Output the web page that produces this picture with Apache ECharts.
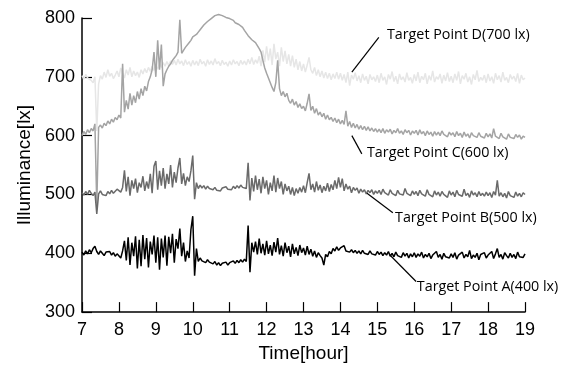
<!DOCTYPE html>
<html>
<head>
<meta charset="utf-8">
<script src="https://cdn.jsdelivr.net/npm/echarts@6/dist/echarts.min.js"></script>
<style>
  html, body { margin: 0; padding: 0; background: #fff; }
  #chart { width: 565px; height: 368px; }
</style>
</head>
<body>
<div id="chart"></div>
<script>
// samples every 0.05 h from 7:00 to 19:00
const startHour = 7;
const stepHour = 0.05;

const pointA = [
  402,397,404,399,406,401,408,412,403,398,404,400,396,402,399,403,397,401,395,399,
  396,392,404,421,388,427,380,418,395,429,374,423,378,431,390,426,376,420,398,430,
  384,427,372,425,393,430,379,428,400,433,384,424,408,442,395,418,386,404,392,440,
  463,362,408,386,392,387,390,384,389,385,387,382,386,380,384,379,383,381,385,380,
  384,382,387,383,388,384,389,385,390,386,447,368,418,402,420,398,425,400,416,397,
  421,399,414,396,419,402,426,398,413,395,418,401,412,394,416,399,410,396,414,401,
  409,397,412,398,407,395,404,393,401,396,392,380,398,394,403,399,408,404,411,405,
  409,406,413,404,407,402,406,401,405,400,404,399,405,400,403,398,404,399,402,397,
  403,398,402,396,401,397,403,395,400,394,402,396,399,393,401,395,400,392,399,394,
  401,393,399,395,402,392,398,394,400,391,397,395,403,393,398,390,400,394,397,392,
  399,393,401,390,397,395,402,392,398,394,405,391,397,393,400,389,398,395,401,392,
  397,394,403,391,399,408,393,398,390,401,396,392,400,393,398,391,402,394,397,393,
  399
];

const pointB = [
  503,499,505,500,507,502,498,504,467,501,506,500,503,498,505,501,507,502,504,509,
  508,504,512,541,505,530,498,524,510,527,503,520,512,531,506,522,510,535,502,548,
  557,508,540,515,545,510,535,518,550,512,538,520,545,562,518,536,515,530,522,540,
  566,492,520,510,516,511,515,509,514,510,513,508,512,507,510,506,511,508,513,509,
  512,508,514,510,515,511,516,512,514,510,554,490,528,505,532,508,526,502,530,510,
  524,500,520,506,532,504,528,510,522,500,518,506,514,500,512,498,510,502,512,504,
  515,503,520,536,508,518,504,522,507,516,503,514,506,519,505,517,508,524,510,529,
  512,527,506,518,509,514,503,512,507,511,502,509,504,508,501,507,503,508,500,506,
  502,507,500,509,503,506,499,508,502,505,498,507,501,504,499,510,502,505,498,506,
  500,505,498,507,501,504,497,508,500,503,496,506,499,504,497,505,500,503,495,506,
  499,504,496,507,500,503,497,509,498,502,495,506,499,503,496,505,498,502,497,504,
  498,503,495,505,499,524,497,503,496,502,494,505,498,501,495,504,497,502,496,503,
  500
];

const pointC = [
  600,607,602,610,605,612,608,620,482,614,618,613,621,617,625,620,628,623,631,627,
  635,630,722,640,660,645,672,652,668,656,675,662,680,668,684,676,692,700,712,742,
  700,762,712,755,684,705,712,718,722,728,732,736,742,797,740,745,750,748,758,762,
  768,765,772,776,780,783,788,791,794,797,799,801,804,805,806,805,804,803,801,800,
  799,797,796,792,793,789,786,784,779,776,770,768,763,762,758,755,748,742,728,715,
  706,698,690,682,675,690,728,680,668,675,666,672,660,655,662,652,658,648,654,646,
  650,642,655,671,643,650,638,646,635,640,632,638,628,635,627,631,624,630,622,628,
  620,626,619,642,616,624,614,621,613,619,611,617,610,616,609,615,608,613,607,612,
  606,611,605,612,604,610,606,611,603,609,605,612,604,608,602,610,605,609,601,608,
  604,609,601,610,603,607,600,608,602,606,599,607,601,606,600,608,602,605,598,606,
  601,605,598,607,600,604,597,606,599,603,596,605,600,603,597,605,599,602,596,604,
  598,603,596,612,599,602,595,604,598,601,594,603,597,600,595,602,597,601,594,599,
  597
];

const pointD = [
  702,696,704,698,700,694,690,700,608,688,702,696,708,699,712,701,706,697,703,710,
  700,715,705,698,712,703,716,700,710,702,708,699,712,705,714,707,716,709,718,711,
  720,713,722,716,724,718,726,719,727,721,728,720,730,722,727,719,729,721,726,718,
  728,720,727,719,730,722,726,718,729,721,727,720,731,722,726,719,728,721,725,718,
  727,720,729,722,726,719,728,721,727,720,730,722,733,721,729,723,735,718,745,725,
  752,728,748,720,756,730,742,718,750,726,744,722,738,718,736,716,730,712,726,710,
  722,708,720,733,712,706,716,702,712,700,710,698,708,697,706,695,705,697,708,696,
  706,694,704,690,708,685,703,696,707,693,702,690,705,694,701,688,704,695,700,692,
  703,690,706,694,700,687,704,696,709,692,701,688,705,695,700,691,707,694,699,689,
  704,693,708,690,701,695,706,688,702,694,710,691,700,696,705,689,703,693,707,692,
  701,690,705,694,709,688,702,696,706,691,700,687,704,695,711,692,699,694,703,690,
  705,693,700,689,706,695,702,691,708,694,699,690,704,696,701,692,706,689,703,695,
  698
];

const seriesNames = ["Target Point D(700 lx)", "Target Point C(600 lx)", "Target Point B(500 lx)", "Target Point A(400 lx)"];
const seriesValues = [pointD, pointC, pointB, pointA];
const seriesColors = ["#e6e6e6", "#a4a4a4", "#6a6a6a", "#000000"];

// leader lines: [point on the curve, end near the label], label anchor (left/middle)
const callouts = [
  { from: [14.31, 708], to: [15.04, 767], text: [15.26, 772] },
  { from: [14.31, 600], to: [14.58, 569], text: [14.72, 571] },
  { from: [14.72, 502], to: [15.42, 469], text: [15.48, 460] },
  { from: [15.34, 397], to: [16.05, 352], text: [16.07, 343] },
];

const toPairs = (values) => values.map((v, i) => [+(startHour + i * stepHour).toFixed(2), v]);

const chart = echarts.init(document.getElementById("chart"));

const option = {
  animation: false,
  grid: { left: 82, right: 40, top: 18, bottom: 51 },
  xAxis: {
    type: "value",
    min: 7,
    max: 19,
    interval: 1,
    name: "Time[hour]",
    nameLocation: "middle",
    nameGap: 28,
    nameTextStyle: { fontFamily: "Liberation Sans", fontSize: 19, color: "#000" },
    axisLine: { lineStyle: { color: "#000", width: 1.5 } },
    axisTick: { inside: true, length: 10, lineStyle: { color: "#000", width: 1.2 } },
    axisLabel: { fontFamily: "Liberation Sans", fontSize: 18, color: "#000", margin: 9 },
    splitLine: { show: false },
  },
  yAxis: {
    type: "value",
    min: 300,
    max: 800,
    interval: 100,
    name: "Illuminance[lx]",
    nameLocation: "middle",
    nameGap: 44,
    nameTextStyle: { fontFamily: "Liberation Sans", fontSize: 19, color: "#000" },
    axisLine: { show: true, lineStyle: { color: "#000", width: 1.5 } },
    axisTick: { show: true, inside: true, length: 10, lineStyle: { color: "#000", width: 1.2 } },
    axisLabel: { fontFamily: "Liberation Sans", fontSize: 18, color: "#000", margin: 7 },
    splitLine: { show: false },
  },
  series: seriesValues.map((values, i) => ({
    name: seriesNames[i],
    type: "line",
    data: toPairs(values),
    showSymbol: false,
    symbol: "none",
    clip: false,
    lineStyle: { color: seriesColors[i], width: 1.5 },
    z: 2 + i,
  })),
};

chart.setOption(option);

// callouts drawn after the axes exist, positioned through the grid's scale
const px = (p) => chart.convertToPixel({ gridIndex: 0 }, p);
const graphics = [];
callouts.forEach((c, i) => {
  const a = px(c.from);
  const b = px(c.to);
  const t = px(c.text);
  graphics.push({
    type: "line",
    shape: { x1: a[0], y1: a[1], x2: b[0], y2: b[1] },
    style: { stroke: "#000", lineWidth: 1.2 },
    z: 10,
  });
  graphics.push({
    type: "text",
    x: t[0],
    y: t[1],
    style: {
      text: seriesNames[i],
      fontFamily: "Open Sans",
      fontSize: 14.3,
      fill: "#000",
      textAlign: "left",
      textVerticalAlign: "middle",
    },
    z: 10,
  });
});
chart.setOption({ graphic: graphics });
</script>
</body>
</html>
